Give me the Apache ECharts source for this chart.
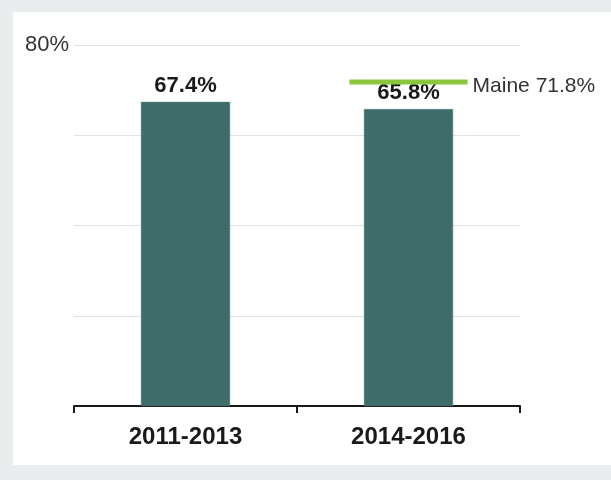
<!DOCTYPE html>
<html><head><meta charset="utf-8">
<script src="https://cdn.jsdelivr.net/npm/echarts@6/dist/echarts.min.js"></script>
<style>
html,body{margin:0;padding:0;background:#e9edee;width:611px;height:480px;overflow:hidden;}
#panel{position:absolute;left:13px;top:12px;width:598px;height:453px;background:#ffffff;}
#chart{width:598px;height:453px;}
</style></head>
<body><div id="panel"><div id="chart"></div></div>
<script>
const categories = ['2011-2013', '2014-2016'];
const values = [67.4, 65.8];
const maineLabel = 'Maine';
const maineValue = 71.8;
const yTicks = [0, 20, 40, 60, 80];
const shownYTick = 80;

const chart = echarts.init(document.getElementById('chart'));
chart.setOption({
  animation: false,
  grid: {left: 61, right: 91, top: 33, bottom: 59},
  xAxis: {
    type: 'category',
    data: categories,
    axisLine: {lineStyle: {color: '#1a1a1a', width: 2}},
    axisTick: {show: true, length: 7, lineStyle: {color: '#1a1a1a', width: 2}},
    axisLabel: {fontFamily: 'Liberation Sans, Arial', fontWeight: 'bold', fontSize: 24, color: '#1a1a1a', margin: 19}
  },
  yAxis: {
    type: 'value',
    min: yTicks[0], max: yTicks[yTicks.length - 1], interval: 20,
    axisLine: {show: false},
    axisTick: {show: false},
    splitLine: {lineStyle: {color: '#dde3e7', width: 1}},
    axisLabel: {
      fontFamily: 'Liberation Sans, Arial', fontSize: 22, color: '#333333', margin: 5,
      formatter: v => v === shownYTick ? v + '%' : ''
    }
  },
  series: [
    {
      type: 'bar',
      data: values,
      barWidth: '40%',
      itemStyle: {color: '#3d6c6a', borderColor: '#5a8584', borderWidth: 0.5},
      label: {
        show: true, position: 'top', distance: 5,
        formatter: p => p.value + '%',
        fontFamily: 'Liberation Sans, Arial', fontWeight: 'bold', fontSize: 22, color: '#1a1a1a'
      },
      z: 2
    },
    {
      type: 'custom',
      data: [[1, maineValue]],
      z: 3,
      renderItem: function (params, api) {
        const pt = api.coord([api.value(0), api.value(1)]);
        const band = api.size([1, 0])[0];
        const half = band * 0.265;
        return {
          type: 'group',
          children: [
            {type: 'line', shape: {x1: pt[0] - half, y1: pt[1], x2: pt[0] + half, y2: pt[1]},
             style: {stroke: '#8cc63f', lineWidth: 5}},
            {type: 'text', x: pt[0] + half + 5, y: pt[1] + 4,
             style: {text: maineLabel + ' ' + api.value(1) + '%', fill: '#333333',
               font: '21px "Liberation Sans", Arial', align: 'left', verticalAlign: 'middle'}}
          ]
        };
      }
    }
  ]
});
</script></body></html>
